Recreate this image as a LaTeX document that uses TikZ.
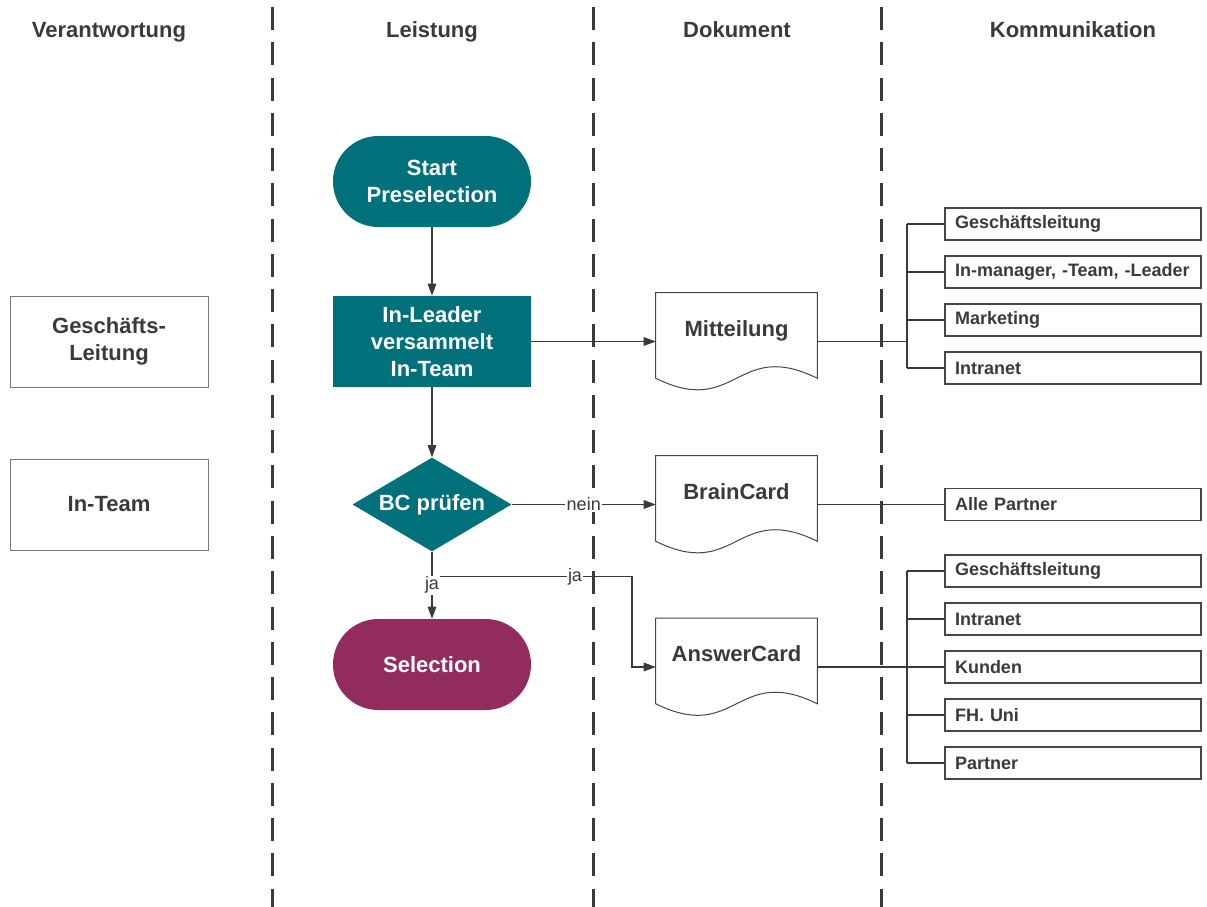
\documentclass[tikz,border=0pt]{standalone}
\usepackage{fontspec}
\setmainfont{Liberation Sans}
\usetikzlibrary{shapes.geometric,arrows.meta}

% one drawing unit
\newcommand\pxu{0.75pt}

\definecolor{flowteal}{RGB}{0,112,122}
\definecolor{flowplum}{RGB}{146,43,94}
\definecolor{inkgray}{RGB}{58,58,58}
\definecolor{rimgray}{RGB}{120,120,120}
\definecolor{boxgray}{RGB}{70,70,70}

\tikzset{
  bigfont/.style={font=\bfseries\fontsize{16.5}{20.25}\selectfont},
  smallbold/.style={font=\bfseries\fontsize{13.5}{16}\selectfont},
  lane/.style={draw=inkgray, line width=2.25pt, dash pattern=on 17.25pt off 9.2pt},
  conn/.style={draw=inkgray, line width=0.8pt},
  arr/.style={conn, -{Triangle[length=9pt,width=6.5pt]}},
  head/.style={bigfont, text=inkgray, anchor=base},
  terminal/.style={rectangle, rounded corners=34pt, minimum width=198*\pxu,
    minimum height=91*\pxu, text=white, bigfont, align=center},
  process/.style={rectangle, fill=flowteal, minimum width=198*\pxu,
    minimum height=91*\pxu, text=white, bigfont, align=center},
  decision/.style={diamond, fill=flowteal, minimum width=159*\pxu,
    minimum height=94*\pxu, inner sep=0pt, aspect=1.7, text=white, bigfont},
  role/.style={rectangle, draw=rimgray, line width=0.75pt, minimum width=198*\pxu,
    minimum height=91*\pxu, text=inkgray, bigfont, align=center},
  docnode/.style={rectangle, minimum width=161*\pxu, minimum height=97*\pxu,
    inner sep=0pt, text=inkgray, bigfont},
  docline/.style={draw=boxgray, line width=0.75pt},
  target/.style={rectangle, draw=boxgray, line width=0.9pt, minimum height=32*\pxu,
    inner xsep=10*\pxu, inner ysep=0pt, text width=236*\pxu, align=left,
    text=inkgray, smallbold},
  tag/.style={fill=white, inner sep=1pt, text=inkgray,
    font=\fontsize{13.5}{16}\selectfont},
}

% outline of a document symbol with a wavy lower edge
\newcommand\docoutline[1]{%
  \draw[docline] (#1.north west) -- (#1.north east)
    -- ([shift={(0,-12)}]#1.south east)
    .. controls ([shift={(0,-52)}]#1.south) and ([shift={(0,28)}]#1.south)
    .. ([shift={(0,-12)}]#1.south west) -- cycle;}

\begin{document}
\begin{tikzpicture}[x=0.75pt,y=-0.75pt]
\useasboundingbox (0,0) rectangle (1207,907);

% swimlane separators
\coordinate (l1t) at (272,7);   \coordinate (l1b) at (272,907);
\coordinate (l2t) at (593,7);   \coordinate (l2b) at (593,907);
\coordinate (l3t) at (881.5,7); \coordinate (l3b) at (881.5,907);
\draw[lane] (l1t) -- (l1b);
\draw[lane] (l2t) -- (l2b);
\draw[lane] (l3t) -- (l3b);

% lane headings
\node[head] (h1) at (109,37) {Verantwortung};
\node[head] (h2) at (432,37) {Leistung};
\node[head] (h3) at (737,37) {Dokument};
\node[head] (h4) at (1073,37) {Kommunikation};

% responsibilities
\node[role] (gl) at (109,341.5) {Geschäfts-\\Leitung};
\node[role] (it) at (109,504.5) {In-Team};

% process flow
\node[terminal, fill=flowteal] (start) at (432,181.5) {Start\\Preselection};
\node[process] (lead) at (432,341.5) {In-Leader\\versammelt\\In-Team};
\node[decision] (bc) at (432,504.5) {BC prüfen};
\node[terminal, fill=flowplum] (sel) at (432,664.5) {Selection};

% documents
\node[docnode] (mit) at (736.5,341.5) {\raisebox{19.5pt}{Mitteilung}};
\node[docnode] (brain) at (736.5,504.5) {\raisebox{19.5pt}{BrainCard}};
\node[docnode] (answer) at (736.5,667) {\raisebox{19.5pt}{AnswerCard}};
\docoutline{mit}
\docoutline{brain}
\docoutline{answer}

% recipients
\node[target] (ka) at (1073,224) {Geschäftsleitung};
\node[target] (kb) at (1073,272) {In-manager, -Team, -Leader};
\node[target] (kc) at (1073,320) {Marketing};
\node[target] (kd) at (1073,368) {Intranet};
\node[target] (pa) at (1073,504.5) {Alle Partner};
\node[target] (ra) at (1073,571) {Geschäftsleitung};
\node[target] (rb) at (1073,619) {Intranet};
\node[target] (rc) at (1073,667) {Kunden};
\node[target] (rd) at (1073,715) {FH. Uni};
\node[target] (re) at (1073,763) {Partner};

% flow connectors
\draw[arr] (start) -- (lead);
\draw[arr] (lead) -- (bc);
\draw[arr] (lead) -- (mit);
\draw[arr] (bc.east) -- node[tag] {nein} (brain.west);
\path (bc.south) -- (sel.north) coordinate[pos=0.37] (fork);
\coordinate (bend) at (632,0);
\draw[arr] (fork) -- node[tag, pos=0.715] {ja} (fork -| bend)
  -- (answer.west -| bend) -- (answer.west);
\draw[arr] (bc.south) -- node[tag, pos=0.5] {ja} (sel.north);

% distribution buses
\coordinate (busA) at (907,0);
\draw[conn] (mit.east) -- (mit.east -| busA);
\draw[conn] (ka.west -| busA) -- (kd.west -| busA);
\foreach \k in {ka,kb,kc,kd} \draw[conn] (\k.west) -- (\k.west -| busA);

\draw[conn] (brain.east) -- (pa.west);

\coordinate (busB) at (907,0);
\draw[conn] (answer.east) -- (answer.east -| busB);
\draw[conn] (ra.west -| busB) -- (re.west -| busB);
\foreach \k in {ra,rb,rc,rd,re} \draw[conn] (\k.west) -- (\k.west -| busB);
\end{tikzpicture}
\end{document}
